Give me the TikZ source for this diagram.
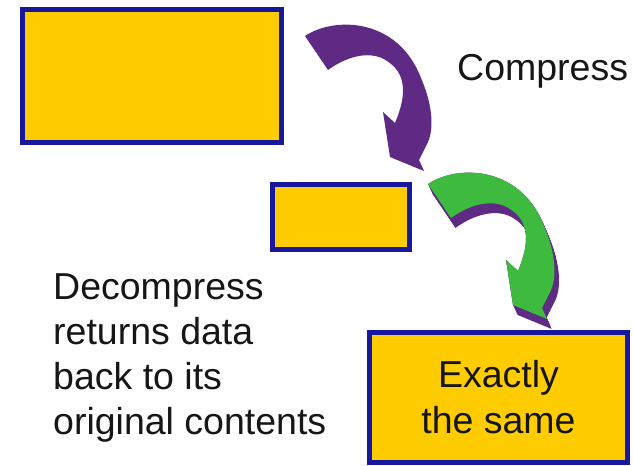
\documentclass[tikz,border=0pt]{standalone}
\usepackage{fontspec}
\setmainfont{Liberation Sans}
\definecolor{boxfill}{RGB}{255,204,0}
\definecolor{boxline}{RGB}{24,24,156}
\definecolor{arrowpurple}{RGB}{94,42,132}
\definecolor{arrowgreen}{RGB}{62,186,62}
\definecolor{inktext}{RGB}{22,22,22}

\tikzset{
  databox/.style={draw=boxline, fill=boxfill, line width=5pt, inner sep=0pt},
  bigtext/.style={text=inktext, inner sep=0pt, font=\fontsize{37.5pt}{45pt}\selectfont},
  % curved block arrow with a perspective head; origin is the outer tail corner
  bentarrow/.pic={
    \path[pic actions]
      (0,0) .. controls (30,-20) and (93,-18) .. (116,42)
            .. controls (126,65) and (130,90) .. (123,106)
      -- (114,124) -- (119,135) -- (85,121) -- (78,76) -- (90,87)
            .. controls (98,68) and (106,40) .. (82,25)
            .. controls (68,15) and (45,18) .. (23,34)
      -- cycle;
  }
}

\begin{document}
\begin{tikzpicture}[x=1pt, y=-1pt]
  \useasboundingbox (0,0) rectangle (633,466);

  % data boxes
  \node[databox, minimum width=259pt, minimum height=133pt] (original) at (151.5,76) {};
  \node[databox, minimum width=137pt, minimum height=65pt] (compressed) at (341,217) {};
  \node[databox, minimum width=258pt, minimum height=130pt, align=center,
        text=inktext, font=\fontsize{37.5pt}{46pt}\selectfont] (restored) at (498.5,397.5)
        {Exactly\\the same};

  % labels
  \node[bigtext, anchor=base west] (compresslabel) at (457,80) {Compress};
  \node[bigtext, anchor=north west, align=left] (decompresslabel) at (53,273)
        {Decompress\\returns data\\back to its\\original contents};

  % compress arrow
  \pic[fill=arrowpurple] at (305,36) {bentarrow};

  % decompress arrow: extruded purple side, green face
  \foreach \t in {0,0.1,...,1.0}
    \pic[fill=arrowpurple] at ({428+5*\t},{184+11*\t}) {bentarrow};
  \pic[fill=arrowgreen] at (428,184) {bentarrow};
\end{tikzpicture}
\end{document}
